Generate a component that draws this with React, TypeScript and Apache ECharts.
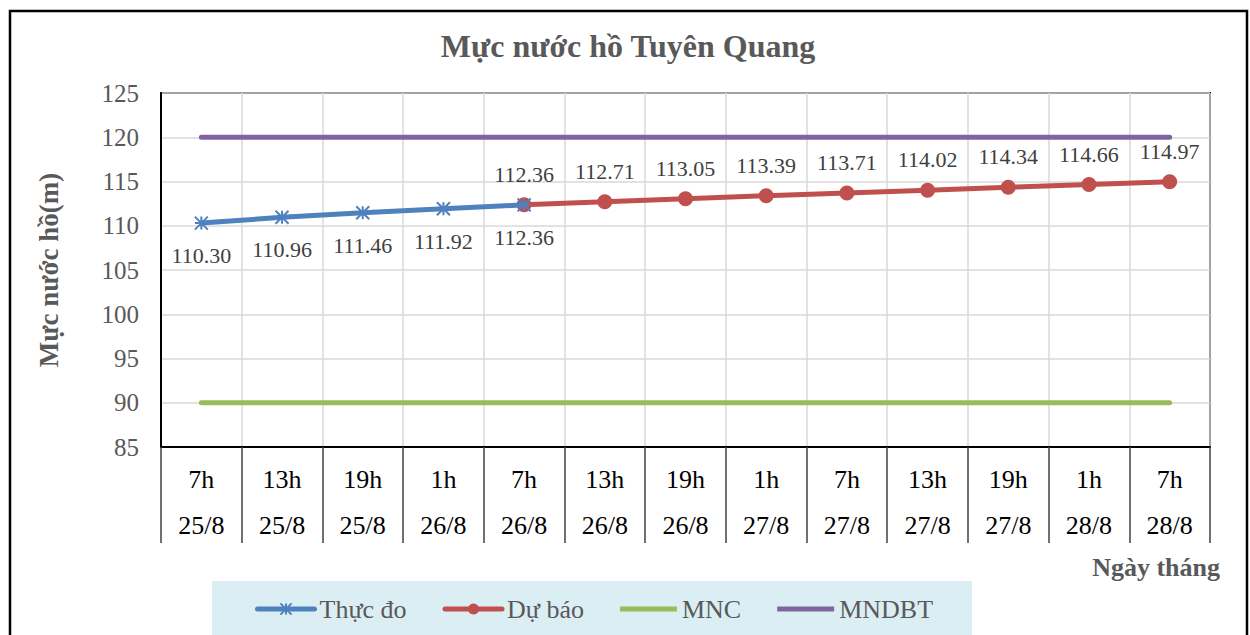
import React, { useEffect, useRef } from "react";
import * as echarts from "echarts";

const hours = ["7h", "13h", "19h", "1h", "7h", "13h", "19h", "1h", "7h", "13h", "19h", "1h", "7h"];
const dates = ["25/8", "25/8", "25/8", "26/8", "26/8", "26/8", "26/8", "27/8", "27/8", "27/8", "27/8", "28/8", "28/8"];
const measured = [110.3, 110.96, 111.46, 111.92, 112.36, null, null, null, null, null, null, null, null];
const forecast = [null, null, null, null, 112.36, 112.71, 113.05, 113.39, 113.71, 114.02, 114.34, 114.66, 114.97];
const mnc = [90, 90, 90, 90, 90, 90, 90, 90, 90, 90, 90, 90, 90];
const mndbt = [120, 120, 120, 120, 120, 120, 120, 120, 120, 120, 120, 120, 120];
const yTicks = { min: 85, max: 125, interval: 5 };

const FONT = "Liberation Serif";
const BAR_ICON = "path://M0,0L57,0L57,5L0,5Z";

export default function App() {
  const ref = useRef<HTMLDivElement>(null);
  useEffect(() => {
    const chart = echarts.init(ref.current!, null, { renderer: "svg" });
    const categories = hours.map((h, i) => h + "\n" + dates[i]);
    const fmt = (p: any) => Number(p.value).toFixed(2);
    chart.setOption({
      animation: false,
      backgroundColor: "#fff",
      textStyle: { fontFamily: FONT },
      title: {
        text: "Mực nước hồ Tuyên Quang",
        top: 25,
        left: 623,
        textAlign: "center",
        textStyle: { fontFamily: FONT, fontSize: 32, fontWeight: "bold", color: "#595959" },
      },
      graphic: [
        {
          type: "rect",
          shape: { x: 10, y: 11, width: 1237, height: 640 },
          style: { fill: "none", stroke: "#000", lineWidth: 2.5 },
          z: 100,
        },
        {
          type: "rect",
          shape: { x: 212, y: 581, width: 760, height: 60 },
          style: { fill: "#dbeef4" },
          z: -1,
        },
      ],
      legend: {
        left: 250,
        top: 591,
        itemWidth: 57,
        itemHeight: 14,
        itemGap: 36,
        lineStyle: { width: 5, cap: "round" },
        textStyle: { fontFamily: FONT, fontSize: 26, color: "#595959" },
        data: [
          { name: "Thực đo" },
          { name: "Dự báo" },
          { name: "MNC", icon: BAR_ICON },
          { name: "MNDBT", icon: BAR_ICON },
        ],
      },
      grid: {
        left: 161,
        top: 93,
        right: 40,
        bottom: 188,
        show: true,
        borderColor: "#000",
        borderWidth: 2,
      },
      xAxis: {
        type: "category",
        data: categories,
        boundaryGap: true,
        axisLine: { lineStyle: { color: "#000", width: 2 } },
        axisTick: { show: true, interval: 0, length: 96, lineStyle: { color: "#404040", width: 1.5 } },
        splitLine: { show: true, interval: 0, lineStyle: { color: "#d9d9d9", width: 1.5 } },
        axisLabel: {
          interval: 0,
          margin: 9,
          fontFamily: FONT,
          fontSize: 26,
          lineHeight: 46,
          color: "#000",
        },
        name: "Ngày tháng",
        nameLocation: "end",
        nameGap: 10,
        nameTextStyle: {
          fontFamily: FONT,
          fontSize: 26,
          fontWeight: "bold",
          color: "#595959",
          align: "right",
          verticalAlign: "top",
          padding: [107, 0, 0, 0],
        },
      },
      yAxis: {
        type: "value",
        min: yTicks.min,
        max: yTicks.max,
        interval: yTicks.interval,
        axisLine: { show: true, lineStyle: { color: "#000", width: 2 } },
        axisTick: { show: false },
        splitLine: { show: true, lineStyle: { color: "#d9d9d9", width: 1.5 } },
        axisLabel: { margin: 22, fontFamily: FONT, fontSize: 25, color: "#595959" },
        name: "Mực nước hồ(m)",
        nameLocation: "middle",
        nameRotate: 90,
        nameGap: 99,
        nameTextStyle: { fontFamily: FONT, fontSize: 27, fontWeight: "bold", color: "#595959" },
      },
      series: [
        {
          name: "Thực đo",
          type: "line",
          data: measured,
          z: 4,
          symbol: "path://M0,0L10,10M10,0L0,10M5,0L5,10M0,5L10,5",
          symbolSize: 13,
          itemStyle: { color: "#4f81bd", borderColor: "#4f81bd", borderWidth: 2 },
          lineStyle: { color: "#4f81bd", width: 5, cap: "round" },
          label: {
            show: true,
            position: "bottom",
            distance: 14,
            formatter: fmt,
            fontFamily: FONT,
            fontSize: 22,
            color: "#404040",
          },
        },
        {
          name: "Dự báo",
          type: "line",
          data: forecast,
          z: 3,
          symbol: "circle",
          symbolSize: 15,
          itemStyle: { color: "#c0504d" },
          lineStyle: { color: "#c0504d", width: 5, cap: "round" },
          label: {
            show: true,
            position: "top",
            distance: 12,
            formatter: fmt,
            fontFamily: FONT,
            fontSize: 22,
            color: "#404040",
          },
        },
        {
          name: "MNC",
          type: "line",
          data: mnc,
          symbol: "none",
          itemStyle: { color: "#9bbb59" },
          lineStyle: { color: "#9bbb59", width: 5, cap: "round" },
        },
        {
          name: "MNDBT",
          type: "line",
          data: mndbt,
          symbol: "none",
          itemStyle: { color: "#8064a2" },
          lineStyle: { color: "#8064a2", width: 5, cap: "round" },
        },
      ],
    });
    return () => chart.dispose();
  }, []);
  return (
    <div
      ref={ref}
      style={{ position: "fixed", left: 0, top: 0, width: 1250, height: 635 }}
    />
  );
}
